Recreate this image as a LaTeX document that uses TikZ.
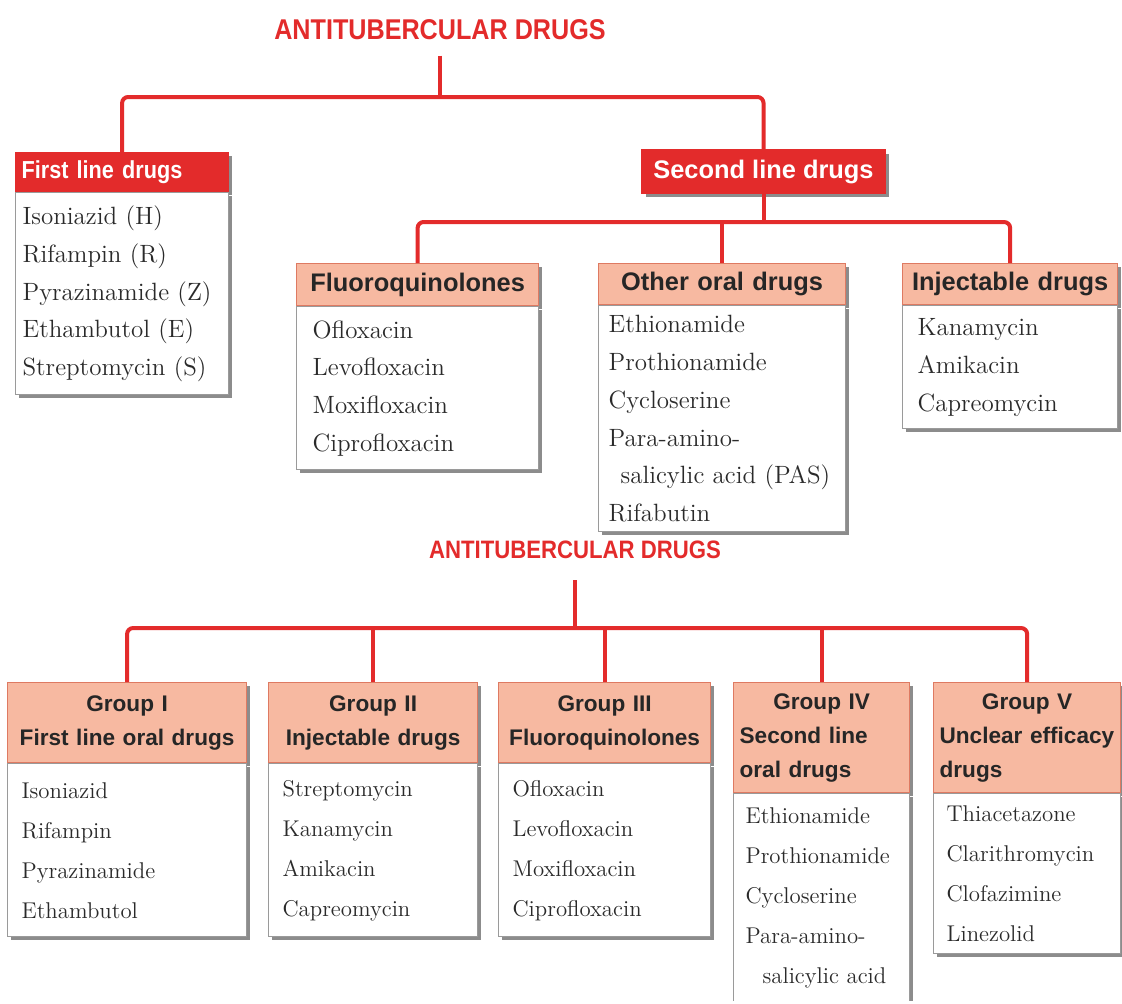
\documentclass[tikz,border=0pt]{standalone}
\usepackage{fontspec}
\setsansfont{Liberation Sans}
\newfontfamily\narrowsf[FakeStretch=0.88]{Liberation Sans}
\usetikzlibrary{shadows}

\definecolor{tbred}{HTML}{E32B2B}
\definecolor{salmon}{HTML}{F7B9A1}
\definecolor{salmonedge}{HTML}{DE7A62}
\definecolor{boxedge}{HTML}{9A9A9A}
\definecolor{inkgray}{HTML}{2A2A2A}

\begin{document}
\begin{tikzpicture}[
    x=0.5pt,
    y=-0.5pt,
    link/.style={draw=tbred,line width=2pt,rounded corners=3pt},
    shade/.style={drop shadow={shadow xshift=1.8pt,shadow yshift=-1.8pt,fill=black!45,opacity=1}},
    head/.style={rectangle,anchor=north west,fill=salmon,draw=salmonedge,line width=0.6pt,
        text=black!85,inner xsep=3pt,inner ysep=2pt,align=center,
        font=\sffamily\bfseries\fontsize{12.7}{15}\selectfont,shade},
    redhead/.style={head,fill=tbred,draw=tbred,text=white},
    grouphead/.style={head,font=\sffamily\bfseries\fontsize{11.3}{17}\selectfont},
    drugs/.style={rectangle,anchor=north west,fill=white,draw=boxedge,line width=0.6pt,
        text=inkgray,inner xsep=3.5pt,inner ysep=2pt,align=left,
        font=\fontsize{12.5}{18.85}\selectfont,shade},
    groupdrugs/.style={drugs,inner xsep=7pt,font=\fontsize{11.4}{20}\selectfont},
    title/.style={text=tbred,inner sep=0pt,inner ysep=7.5pt,
        font=\narrowsf\bfseries\fontsize{14.3}{16}\selectfont}
]
    \useasboundingbox (0,0) rectangle (1122,1003);
    \clip (0,0) rectangle (1122,1000);

    % first scheme
    \node[title] (ttl) at (440,30) {ANTITUBERCULAR DRUGS};

    \node[redhead,align=left,text width=100.5pt,minimum height=19.5pt,
        font=\narrowsf\bfseries\fontsize{12.3}{15}\selectfont] (first) at (15,152) {First line drugs};
    \node[drugs,text width=99.5pt,minimum height=101pt] (firstlist) at (first.south west)
        {Isoniazid (H)\\Rifampin (R)\\Pyrazinamide (Z)\\Ethambutol (E)\\Streptomycin (S)};

    \node[redhead,anchor=center,minimum width=121.5pt,minimum height=21.5pt] (second) at (763.5,171.5) {Second line drugs};

    \node[head,text width=115pt,minimum height=21pt] (fluoro) at (296,263) {Fluoroquinolones};
    \node[drugs,inner xsep=8pt,text width=105pt,minimum height=81.5pt] (fluorolist) at (fluoro.south west)
        {Ofloxacin\\Levofloxacin\\Moxifloxacin\\Ciprofloxacin};

    \node[head,text width=117.5pt,minimum height=20.5pt] (other) at (598,263) {Other oral drugs};
    \node[drugs,inner xsep=5pt,text width=113.5pt,minimum height=113pt] (otherlist) at (other.south west)
        {Ethionamide\\Prothionamide\\Cycloserine\\Para-amino-\\\hspace*{6pt}salicylic acid (PAS)\\Rifabutin};

    \node[head,text width=101.5pt,minimum height=20.5pt] (inject) at (902,263) {Injectable drugs};
    \node[drugs,inner xsep=7.5pt,text width=92.5pt,minimum height=61.5pt] (injectlist) at (inject.south west)
        {Kanamycin\\Amikacin\\Capreomycin};

    \coordinate (topbus) at (440,97);
    \coordinate (midbus) at (763.5,222);
    \draw[link] (ttl.south) -- (topbus);
    \draw[link] (first.north) |- (topbus) -| (second.north);
    \draw[link] (second.south) -- (midbus);
    \draw[link] (fluoro.north) |- (midbus) -| (inject.north);
    \draw[link] (other.north) -- (other.north |- midbus);

    % second scheme
    \node[title,inner ysep=10.4pt,font=\narrowsf\bfseries\fontsize{12.6}{14}\selectfont] (ttl2) at (575,550) {ANTITUBERCULAR DRUGS};

    \node[grouphead,text width=113.5pt,minimum height=40pt] (g1) at (7,682) {Group I\\First line oral drugs};
    \node[groupdrugs,text width=105.5pt,minimum height=86.5pt] (g1list) at (g1.south west)
        {Isoniazid\\Rifampin\\Pyrazinamide\\Ethambutol};

    \node[grouphead,text width=98.5pt,minimum height=40pt] (g2) at (268,682) {Group II\\Injectable drugs};
    \node[groupdrugs,text width=90.5pt,minimum height=86.5pt] (g2list) at (g2.south west)
        {Streptomycin\\Kanamycin\\Amikacin\\Capreomycin};

    \node[grouphead,text width=100pt,minimum height=40pt] (g3) at (498,682) {Group III\\Fluoroquinolones};
    \node[groupdrugs,text width=92pt,minimum height=86.5pt] (g3list) at (g3.south west)
        {Ofloxacin\\Levofloxacin\\Moxifloxacin\\Ciprofloxacin};

    \node[grouphead,align=left,text width=82pt,minimum height=55pt] (g4) at (733,682)
        {\makebox[82pt]{Group IV}\\Second line\\oral drugs};
    \node[groupdrugs,inner xsep=6pt,text width=76pt,minimum height=104pt] (g4list) at (g4.south west)
        {Ethionamide\\Prothionamide\\Cycloserine\\Para-amino-\\\hspace*{8.5pt}salicylic acid};

    \node[grouphead,align=left,text width=87.5pt,minimum height=55pt] (g5) at (933,682)
        {\makebox[87.5pt]{Group V}\\Unclear efficacy\\drugs};
    \node[groupdrugs,inner xsep=6.5pt,text width=80.5pt,minimum height=80pt] (g5list) at (g5.south west)
        {Thiacetazone\\Clarithromycin\\Clofazimine\\Linezolid};

    \coordinate (lowbus) at (575,628);
    \draw[link] (ttl2.south) -- (lowbus);
    \draw[link] (g1.north) |- (lowbus) -| (g5.north);
    \foreach \g in {g2,g3,g4} {
        \draw[link] (\g.north) -- (\g.north |- lowbus);
    }
\end{tikzpicture}
\end{document}
